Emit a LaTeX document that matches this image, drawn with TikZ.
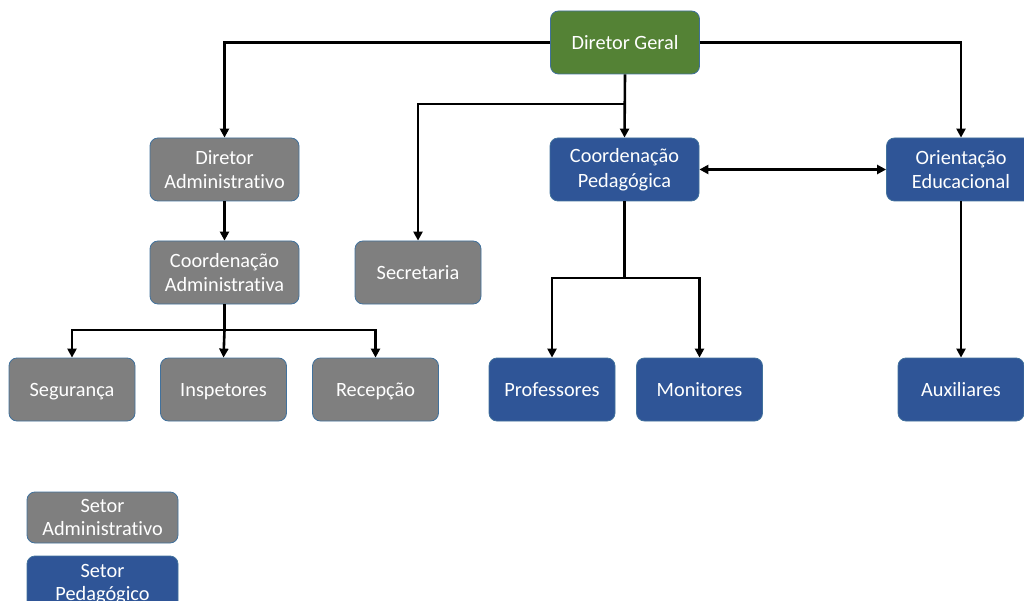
\documentclass[tikz,border=0pt]{standalone}
\usepackage{fontspec}
\setmainfont{Carlito}[Ligatures=NoCommon]
\usetikzlibrary{arrows.meta}
\definecolor{grayfill}{HTML}{7F7F7F}
\definecolor{bluefill}{HTML}{2F5597}
\definecolor{greenfill}{HTML}{548235}
\definecolor{edgeblue}{HTML}{41719C}
\begin{document}
\begin{tikzpicture}[x=1pt,y=-1pt,
  box/.style={draw=edgeblue, line width=0.8pt, rounded corners=8pt, text=white,
    align=center, inner sep=0pt, font=\fontsize{20.3}{24.6}\selectfont},
  wide/.style={box, minimum width=149pt, minimum height=63pt},
  oneline/.style={text height=18pt, text depth=4pt},
  small/.style={box, oneline, minimum width=126pt, minimum height=63pt},
  adm/.style={fill=grayfill},
  ped/.style={fill=bluefill},
  top/.style={fill=greenfill},
  conn/.style={line width=2.6pt, -{Triangle[length=9pt,width=9pt]}},
  plain/.style={line width=2.6pt}
]
\useasboundingbox (0,0) rectangle (1024,601);
% nodes
\node[wide,top,oneline] (dg) at (625,42.5) {Diretor Geral};
\node[wide,adm] (da) at (224.5,169.5) {Diretor\\Administrativo};
\node[wide,adm] (ca) at (224.5,272.5) {Coordenação\\Administrativa};
\node[small,adm] (sec) at (418,272.5) {Secretaria};
\node[wide,ped] (cp) at (624.5,169.5) {Coordenação\\Pedagógica};
\node[wide,ped] (oe) at (961,169.5) {Orientação\\Educacional};
\node[small,adm] (seg) at (72,389.5) {Segurança};
\node[small,adm] (ins) at (223.5,389.5) {Inspetores};
\node[small,adm] (rec) at (375.5,389.5) {Recepção};
\node[small,ped] (pro) at (552,389.5) {Professores};
\node[small,ped] (mon) at (699.5,389.5) {Monitores};
\node[small,ped] (aux) at (961,389.5) {Auxiliares};
% legend
\node[box,adm,minimum width=151pt,minimum height=51pt,font=\fontsize{20.3}{23}\selectfont] (lg1) at (102.5,517.5) {Setor\\Administrativo};
\node[box,ped,minimum width=151pt,minimum height=56pt,font=\fontsize{20.3}{23}\selectfont] (lg2) at (102.5,584) {Setor\\Pedagógico};
% junctions
\coordinate (j1) at (625,104);
\coordinate (j2) at (224.5,330);
\coordinate (j3) at (624.5,278);
% connectors
\draw[conn] (dg.west) -| (da.north);
\draw[conn] (dg.east) -| (oe.north);
\draw[conn] (dg.south) -- (cp.north);
\draw[conn] (j1) -| (sec.north);
\draw[conn] (da.south) -- (ca.south |- ca.north);
\draw[plain] (ca.south) -- (j2);
\draw[conn] (j2) -| (seg.north);
\draw[conn] (j2) -| (rec.north);
\draw[conn] (j2) -- (ins.north);
\draw[plain] (cp.south) -- (j3);
\draw[conn] (j3) -| (pro.north);
\draw[conn] (j3) -| (mon.north);
\draw[line width=2.6pt, {Triangle[length=9pt,width=9pt]}-{Triangle[length=9pt,width=9pt]}] (cp.east) -- (oe.west);
\draw[conn] (oe.south) -- (aux.north);
\end{tikzpicture}
\end{document}
